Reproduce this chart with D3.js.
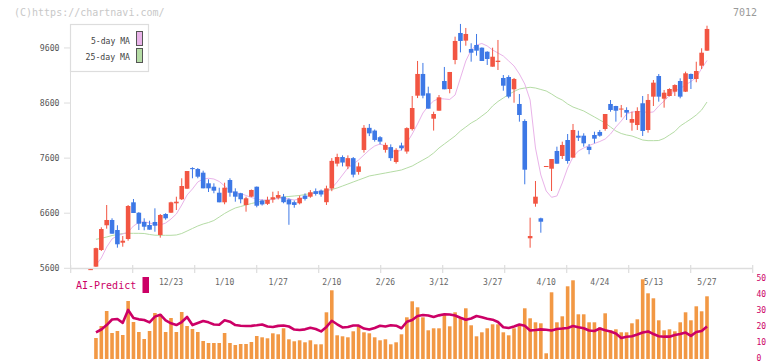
<!DOCTYPE html>
<html><head><meta charset="utf-8">
<script src="https://cdn.jsdelivr.net/npm/d3@7"></script>
<style>body{margin:0;background:#fff;}svg{display:block;}</style>
</head><body>
<svg id="c" width="772" height="361"></svg>
<script>
const dates = ["12/2","12/3","12/4","12/5","12/6","12/9","12/10","12/11","12/12","12/13","12/16","12/17","12/18","12/19","12/20","12/23","12/24","12/25","12/26","12/27","12/30",
"1/6","1/7","1/8","1/9","1/10","1/14","1/15","1/16","1/17","1/20","1/21","1/22","1/23","1/24","1/27","1/28","1/29","1/30","1/31",
"2/3","2/4","2/5","2/6","2/7","2/10","2/12","2/13","2/14","2/17","2/18","2/19","2/20","2/21","2/25","2/26","2/27","2/28",
"3/3","3/4","3/5","3/6","3/7","3/10","3/11","3/12","3/13","3/14","3/17","3/18","3/19","3/21","3/24","3/25","3/26","3/27","3/28","3/31",
"4/1","4/2","4/3","4/4","4/7","4/8","4/9","4/10","4/11","4/14","4/15","4/16","4/17","4/18","4/21","4/22","4/23","4/24","4/25","4/28","4/30",
"5/1","5/2","5/7","5/8","5/9","5/12","5/13","5/14","5/15","5/16","5/19","5/20","5/21","5/22","5/23","5/26","5/27"];

const open  = [5578,5630,5932,6381,6477,6295,6065,6132,6798,6609,6441,6386,6441,6205,6586,6609,6780,6853,7045,7420,7403,7336,7143,7081,6972,6798,7203,6996,6962,6749,6900,7081,6830,6770,6850,6880,6900,6850,6800,6780,6920,6900,7000,7010,6800,7050,7500,7620,7450,7600,7350,7748,8150,8100,7980,7750,7800,7530,7830,7720,8127,8734,9128,8777,8316,8461,9000,8855,9382,9872,9733,9581,9654,9605,9532,9260,9345,9055,9073,8850,8583,8274,6145,6773,6508,7440,7408,7730,7639,7929,7609,8007,8007,7808,8020,8075,8129,8583,8546,8486,8474,8243,8201,8596,8111,8716,9091,8679,8728,8806,9000,8806,9128,9037,9278,9551];
const high  = [5585,5975,6344,6749,6508,6381,6186,6749,6858,6620,6508,6464,6689,6585,6600,6809,6900,7234,7366,7434,7420,7372,7216,7143,7063,7154,7234,7052,6970,6900,7030,7085,6850,6900,6990,7000,6950,6870,6830,6920,6960,7020,7050,7030,7100,7600,7680,7650,7650,7620,7520,8200,8220,8120,8000,7880,7850,7780,7880,8160,8728,9364,9328,8897,8443,8746,9255,9164,9805,10036,9963,9685,9854,9610,9540,9605,9745,9109,9104,9055,8764,8305,6519,7185,6519,7457,7584,7808,7899,8038,8220,8098,8051,7857,8080,8111,8401,8655,8550,8565,8523,8443,8523,8728,8764,9018,9127,8837,8868,8940,9049,9170,9135,9350,9594,10004];
const low   = [5578,5625,5914,6319,6228,5974,5992,6101,6604,6295,6290,6301,6264,6156,6482,6604,6658,6840,7040,7234,7234,7052,6985,6962,6798,6762,6900,6809,6780,6628,6890,6707,6740,6750,6790,6850,6780,6390,6700,6760,6830,6880,6920,6900,6750,7000,7450,7450,7400,7250,7300,7700,8000,7900,7850,7700,7550,7500,7740,7680,8100,8690,8686,8498,8100,8461,8850,8777,9304,9520,9641,9351,9460,9364,9291,9260,9200,8824,8686,8606,8262,7125,5974,6718,6246,7440,7003,7499,7584,7499,7609,7911,7808,7670,7869,7989,8098,8443,8262,8341,8292,8098,8111,8002,8062,8546,8625,8516,8720,8728,8686,8800,8855,8977,9218,9545];
const close = [5585,5966,6313,6477,6228,6036,6101,6731,6604,6410,6355,6301,6373,6568,6508,6798,6809,7094,7366,7400,7263,7052,7052,7009,6798,7063,6972,6900,6853,6871,7022,6736,6760,6840,6890,6930,6800,6760,6750,6880,6860,6980,6950,6940,7050,7550,7620,7520,7600,7300,7450,8150,8050,7930,7900,7840,7600,7750,7780,8145,8510,9128,8734,8498,8401,8704,8850,9164,9727,9727,9854,9514,9551,9364,9400,9441,9369,8915,8716,9037,8383,7390,6186,6900,6446,7457,7584,7499,7839,7548,8111,7971,7869,7748,7953,8007,8401,8474,8461,8500,8425,8310,8456,8093,8656,8970,8716,8788,8855,8927,8716,9140,9037,9182,9514,9945];

const ma5 = [null,5660,5787,5987,6132,6195,6223,6259,6368,6431,6446,6422,6395,6386,6422,6495,6586,6749,6931,7040,7167,7221,7234,7221,7176,7094,7003,6967,6958,6922,6885,6858,6840,6840,6849,6871,6876,6858,6840,6858,6894,6931,6985,7003,6985,7058,7167,7294,7421,7494,7566,7657,7748,7820,7857,7820,7748,7711,7748,7875,8038,8220,8419,8547,8637,8683,8674,8665,8746,9055,9364,9563,9654,9681,9636,9563,9509,9454,9364,9273,9127,8946,8655,7784,7294,7003,6889,6913,7149,7421,7621,7730,7784,7829,7866,7902,7947,8038,8165,8274,8401,8438,8443,8443,8429,8438,8547,8637,8737,8819,8864,8928,8991,9064,9227,9373];
const ma25 = [null,6126,6145,6168,6195,6214,6232,6235,6235,6235,6232,6214,6201,6199,6199,6199,6205,6232,6277,6323,6368,6404,6431,6468,6531,6595,6649,6695,6722,6749,6776,6798,6822,6840,6858,6876,6894,6904,6913,6922,6940,6958,6976,6994,7012,7031,7058,7094,7130,7167,7203,7239,7276,7294,7312,7330,7348,7366,7385,7421,7457,7512,7566,7621,7693,7784,7857,7929,8002,8093,8165,8238,8292,8365,8438,8547,8628,8692,8755,8810,8855,8873,8886,8873,8846,8819,8764,8701,8655,8583,8528,8492,8456,8401,8347,8292,8238,8165,8093,8047,8020,8002,7966,7929,7917,7917,7920,7957,8020,8084,8183,8247,8311,8383,8474,8619];

const volume = [null,21,33,48,26,28,24,58,37,27,20,28,46,45,27,41,27,47,33,30,27,18,16,16,16,26,16,14,15,15,17,23,
21.7,20.7,25.7,24.7,30.7,19.7,17.7,18.7,16.7,18.7,14.7,14.7,46.7,68.7,23.7,22.7,21.7,27.7,33.7,26.7,25.7,21.7,18.7,19.7,14.7,16.7,24.7,41.7,57.7,51.7,41.7,28.7,30.7,30.7,44.7,32.7,46.7,40.7,50.7,33.7,22.7,26.7,30.7,34.7,34.7,26.7,23.7,30.7,33,
50.7,40.7,36.7,35.7,5.7,66.7,36.7,42.7,72.7,78.7,44.7,44.7,36.7,36.7,31.7,45.7,28.7,29.7,26.7,26.7,35.7,39.7,79.7,65.7,60.7,38.7,28.7,29.7,27.7,36.7,46.7,38.7,52.7,47.7,62.7];

const aiPredict = [null,15.8,17.6,20.4,23.9,24.2,21.8,29.9,24.8,24.0,23.6,22.1,25.7,26.9,23.3,21.5,20.4,22.3,25.5,20.4,21.7,23.0,22.1,20.8,20.6,23.4,22.5,20.4,20.0,19.8,19.9,20.3,20.8,19.5,19.2,19.9,20.1,19.5,17.6,17.3,17.7,18.7,17.9,16.4,19.2,23.1,20.9,18.9,19.2,20.1,20.1,18.2,17.6,18.6,20.0,19.5,20.3,20.0,18.4,22.5,23.6,26.1,26.7,26.4,25.5,26.5,27.2,27.0,26.4,25.0,23.8,24.5,26.1,25.3,24.4,23.8,22.3,19.0,18.6,19.5,20.8,19.9,17.0,17.3,17.7,17.5,17.0,17.9,18.2,18.6,19.8,19.0,18.4,17.0,16.7,18.2,17.1,16.4,15.1,12.3,13.1,13.4,14.5,15.7,16.4,14.8,13.4,13.1,13.1,14.2,14.8,15.7,13.6,16.0,16.7,19.5];

const priceTicks = [5600,6600,7600,8600,9600];
const dateLabels = ["12/23","1/10","1/27","2/10","2/26","3/12","3/27","4/10","4/24","5/13","5/27"];
const aiTicks = [0,10,20,30,40,50];
const legendItems = ["5-day MA","25-day MA"];

const C = {up:"#f25542", down:"#3d78e6", ma5:"#e9b3e9", ma25:"#b5dca5", vol:"#f29844", ai:"#cc0066", axis:"#dddddd", text:"#555"};
const MONO = "'DejaVu Sans Mono', 'Liberation Mono', monospace";

const svg = d3.select("#c");
const x = d3.scalePoint().domain(dates).range([90.6, 707]);
const y = d3.scaleLinear().domain([5600, 10035]).range([268.3, 24]);
const yv = d3.scaleLinear().domain([0, 80]).range([359, 279]);
const ya = d3.scaleLinear().domain([0, 50]).range([357.5, 278]);
const xt = d3.scaleLinear().domain([0, 11]).range([70.7, 752.7]);

svg.append("text").attr("x",14).attr("y",16).attr("font-family",MONO).attr("font-size",10).attr("fill","#c8c8c8").text("(C)https://chartnavi.com/");
svg.append("text").attr("x",757).attr("y",16).attr("text-anchor","end").attr("font-family",MONO).attr("font-size",10).attr("fill","#9a9a9a").text("7012");

svg.append("line").attr("x1",70.5).attr("x2",70.5).attr("y1",y.range()[1]).attr("y2",y.range()[0]).attr("stroke",C.axis);
svg.append("line").attr("x1",70).attr("x2",xt.range()[1]).attr("y1",268.5).attr("y2",268.5).attr("stroke",C.axis).attr("stroke-width",1.5);
svg.selectAll(".xt").data(d3.range(12)).enter().append("line")
  .attr("x1",d=>xt(d)).attr("x2",d=>xt(d)).attr("y1",265).attr("y2",273).attr("stroke",C.axis).attr("stroke-width",1.2);

const yg = svg.append("g");
priceTicks.forEach(t=>{
  yg.append("line").attr("x1",64).attr("x2",70).attr("y1",y(t)).attr("y2",y(t)).attr("stroke",C.axis);
  yg.append("text").attr("x",59.5).attr("y",y(t)+3).attr("text-anchor","end").attr("font-family",MONO).attr("font-size",8.2).attr("fill",C.text).text(t);
});

dateLabels.forEach(d=>{
  svg.append("text").attr("x",x(d)).attr("y",285).attr("text-anchor","middle").attr("font-family",MONO).attr("font-size",8).attr("fill","#666").text(d);
});

const idx = d3.range(dates.length);
const lineMA = arr => d3.line().defined(i=>arr[i]!=null).x(i=>x(dates[i])).y(i=>y(arr[i]));
svg.append("path").datum(idx).attr("d",lineMA(ma25)).attr("fill","none").attr("stroke",C.ma25).attr("stroke-width",1);
svg.append("path").datum(idx).attr("d",lineMA(ma5)).attr("fill","none").attr("stroke",C.ma5).attr("stroke-width",1);

const cg = svg.append("g");
idx.forEach(i=>{
  const col = close[i] >= open[i] ? C.up : C.down;
  const cx = x(dates[i]);
  cg.append("line").attr("x1",cx).attr("x2",cx).attr("y1",y(high[i])).attr("y2",y(low[i])).attr("stroke",col).attr("stroke-width",1);
  const top = y(Math.max(open[i],close[i])), bot = y(Math.min(open[i],close[i]));
  cg.append("rect").attr("x",cx-2.3).attr("width",4.6).attr("y",top).attr("height",Math.max(1,bot-top)).attr("fill",col);
});

const lg = svg.append("g");
lg.append("rect").attr("x",70.5).attr("y",24.5).attr("width",78).attr("height",47).attr("fill","#fff").attr("stroke",C.axis).attr("stroke-width",1.2);
[[C.ma5,44,31.5,39],[C.ma25,60,48.5,44.5]].forEach((s,k)=>{
  lg.append("text").attr("x",130).attr("y",s[1]).attr("text-anchor","end").attr("font-family",MONO).attr("font-size",9.5)
    .attr("textLength",s[3]).attr("lengthAdjust","spacingAndGlyphs").attr("fill","#444").text(legendItems[k]);
  lg.append("rect").attr("x",136.5).attr("y",s[2]).attr("width",6).attr("height",14).attr("fill",s[0]).attr("stroke","#555").attr("stroke-width",1);
});

svg.append("g").selectAll("rect").data(idx.filter(i=>volume[i]!=null)).enter().append("rect")
  .attr("x",i=>x(dates[i])-1.8).attr("width",3.6).attr("y",i=>yv(volume[i])).attr("height",i=>yv(0)-yv(volume[i])).attr("fill",C.vol);

svg.append("path").datum(idx).attr("d",d3.line().defined(i=>aiPredict[i]!=null).x(i=>x(dates[i])).y(i=>ya(aiPredict[i])))
  .attr("fill","none").attr("stroke",C.ai).attr("stroke-width",2.6).attr("stroke-linejoin","round");

svg.append("text").attr("x",76).attr("y",289).attr("font-family",MONO).attr("font-size",10).attr("fill",C.ai).text("AI-Predict");
svg.append("rect").attr("x",142.5).attr("y",277).attr("width",6.5).attr("height",16).attr("fill",C.ai);

aiTicks.forEach(t=>{
  svg.append("text").attr("x",756.5).attr("y",ya(t)+3).attr("font-family",MONO).attr("font-size",8).attr("fill",C.ai).text(t);
});
</script>
</body></html>
